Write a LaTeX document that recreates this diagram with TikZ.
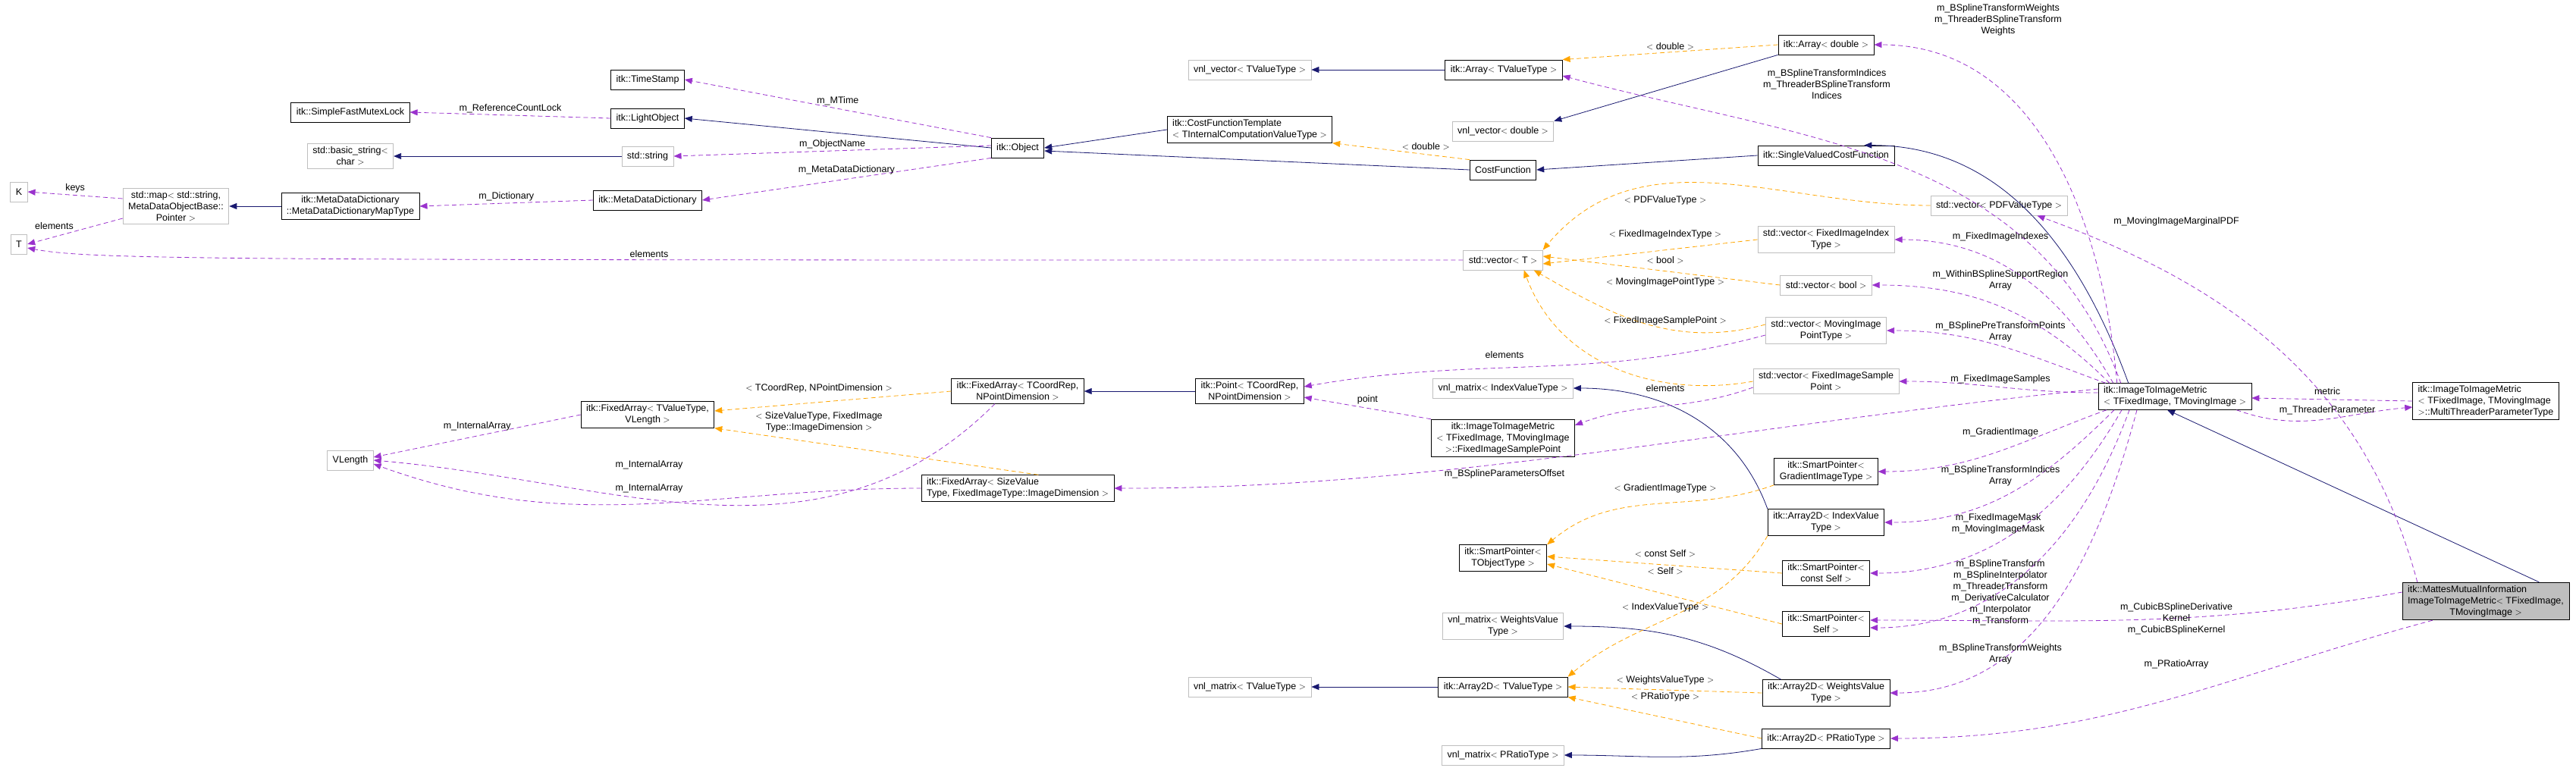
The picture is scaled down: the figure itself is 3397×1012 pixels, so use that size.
\documentclass[tikz,border=0pt]{standalone}
\usepackage{fontspec}
\setmainfont{Liberation Sans}
\usepackage{tikz}
\usetikzlibrary{arrows.meta,positioning}

\definecolor{usecol}{HTML}{9A32CD}
\definecolor{tplcol}{HTML}{FFA500}
\definecolor{inhcol}{HTML}{191970}
\definecolor{undoc}{HTML}{BFBFBF}

\begin{document}
\begin{tikzpicture}[x=1pt,y=-1pt,>={Triangle[width=8pt,length=10pt]},
  font=\fontsize{12.5}{15}\selectfont]
\tikzstyle{cls}=[draw=black, thick, align=center, inner xsep=7pt, inner ysep=4pt, minimum height=26pt]
\tikzstyle{ext}=[cls, draw=undoc]
\tikzstyle{use}=[->, usecol, dashed, thick, dash pattern=on 6pt off 4pt]
\tikzstyle{tpl}=[->, tplcol, dashed, thick, dash pattern=on 6pt off 4pt]
\tikzstyle{inh}=[->, inhcol, thick]
\tikzstyle{lbl}=[align=center, inner sep=1pt, text=black]
\useasboundingbox (0,0) rectangle (3397,1012);

% left part
\node[ext] (k) at (25,253) {K};
\node[ext] (t) at (25,322) {T};
\node[ext] (smap) at (232,272) {std::map$<$ std::string,\\MetaDataObjectBase::\\Pointer $>$};
\node[cls] (mapt) at (462,272) {itk::MetaDataDictionary\\::MetaDataDictionaryMapType};
\node[cls] (mdd) at (854,264) {itk::MetaDataDictionary};
\node[ext] (sstr) at (854,206) {std::string};
\node[ext] (bstr) at (462,206) {std::basic\_string$<$\\char $>$};
\node[cls] (lobj) at (854,156) {itk::LightObject};
\node[cls] (tstamp) at (854,105) {itk::TimeStamp};
\node[cls] (mutex) at (462,148) {itk::SimpleFastMutexLock};
\node[cls] (farrv) at (854,547) {itk::FixedArray$<$ TValueType,\\VLength $>$};
\node[ext] (vlen) at (462,607) {VLength};

% middle part
\node[cls] (obj) at (1342,195) {itk::Object};
\node[cls, align=left] (cft) at (1648,171) {itk::CostFunctionTemplate\\$<$ TInternalComputationValueType $>$};
\node[ext] (vvect) at (1648,92) {vnl\_vector$<$ TValueType $>$};
\node[cls] (arrt) at (1983,92) {itk::Array$<$ TValueType $>$};
\node[ext] (vvdbl) at (1982,173) {vnl\_vector$<$ double $>$};
\node[cls] (cf) at (1982,224) {CostFunction};
\node[ext] (vect) at (1982,343) {std::vector$<$ T $>$};
\node[cls] (fatc) at (1342,516) {itk::FixedArray$<$ TCoordRep,\\NPointDimension $>$};
\node[cls] (point) at (1648,516) {itk::Point$<$ TCoordRep,\\NPointDimension $>$};
\node[ext] (vmidx) at (1982,512) {vnl\_matrix$<$ IndexValueType $>$};
\node[cls] (fisp) at (1982,578) {itk::ImageToImageMetric\\$<$ TFixedImage, TMovingImage\\$>$::FixedImageSamplePoint};
\node[cls, align=left] (fasv) at (1342,644) {itk::FixedArray$<$ SizeValue\\Type, FixedImageType::ImageDimension $>$};
\node[cls] (sptr) at (1982,736) {itk::SmartPointer$<$\\TObjectType $>$};
\node[ext] (vmw) at (1982,826) {vnl\_matrix$<$ WeightsValue\\Type $>$};
\node[ext] (vmt) at (1648,906) {vnl\_matrix$<$ TValueType $>$};
\node[cls] (a2dt) at (1982,906) {itk::Array2D$<$ TValueType $>$};
\node[ext] (vmpr) at (1982,996) {vnl\_matrix$<$ PRatioType $>$};

% right part
\node[cls] (arrd) at (2408,59) {itk::Array$<$ double $>$};
\node[cls] (svcf) at (2408,205) {itk::SingleValuedCostFunction};
\node[ext] (vpdf) at (2636,271) {std::vector$<$ PDFValueType $>$};
\node[ext] (vidx) at (2408,316) {std::vector$<$ FixedImageIndex\\Type $>$};
\node[ext] (vbool) at (2408,376) {std::vector$<$ bool $>$};
\node[ext] (vmpt) at (2408,436) {std::vector$<$ MovingImage\\PointType $>$};
\node[ext] (vfsp) at (2408,503) {std::vector$<$ FixedImageSample\\Point $>$};
\node[cls, align=left] (itim) at (2868,523) {itk::ImageToImageMetric\\$<$ TFixedImage, TMovingImage $>$};
\node[cls, align=left] (mtpt) at (3278,529) {itk::ImageToImageMetric\\$<$ TFixedImage, TMovingImage\\ $>$::MultiThreaderParameterType};
\node[cls] (spgrad) at (2408,622) {itk::SmartPointer$<$\\GradientImageType $>$};
\node[cls] (a2di) at (2408,689) {itk::Array2D$<$ IndexValue\\Type $>$};
\node[cls] (spcs) at (2408,756) {itk::SmartPointer$<$\\const Self $>$};
\node[cls] (sps) at (2408,823) {itk::SmartPointer$<$\\Self $>$};
\node[cls] (a2dw) at (2408,914) {itk::Array2D$<$ WeightsValue\\Type $>$};
\node[cls] (a2dp) at (2408,974) {itk::Array2D$<$ PRatioType $>$};
\node[cls, fill=undoc, align=left] (mattes) at (3278,793) {itk::MattesMutualInformation\\ImageToImageMetric$<$ TFixedImage,\\\hfill TMovingImage $>$\hfill\null};

% inheritance
\draw[inh] (sstr) -- (bstr);
\draw[inh] (mapt) -- (smap);
\draw[inh] (obj.west) -- (lobj.east);
\draw[inh] (cft.west) -- (obj.east);
\draw[inh] (cf.west) -- ([yshift=-4pt]obj.east);
\draw[inh] (arrt) -- (vvect);
\draw[inh] (arrd.south west) -- (vvdbl.north east);
\draw[inh] (svcf.west) -- (cf.east);
\draw[inh] ([xshift=40pt]itim.north west) to[out=110,in=0] ([xshift=-40pt]svcf.north east);
\draw[inh] ([xshift=-40pt]mattes.north east) -- ([xshift=-10pt]itim.south);
\draw[inh] (point) -- (fatc);
\draw[inh] (a2di.north west) to[out=110,in=0] (vmidx.east);
\draw[inh] ([xshift=25pt]a2dw.north west) to[out=150,in=0] (vmw.east);
\draw[inh] (a2dt) -- (vmt);
\draw[inh] (a2dp.south west) to[out=190,in=0] (vmpr.east);

% templates
\draw[tpl] (arrd.west) -- (arrt.north east) node[lbl, pos=.5, above=2pt] {$<$ double $>$};
\draw[tpl] (cf.north west) -- (cft.south east) node[lbl, pos=.5, above right] {$<$ double $>$};
\draw[tpl] (vpdf.west) to[out=180,in=50] (vect.north east);
\node[lbl] at (2196,264) {$<$ PDFValueType $>$};
\draw[tpl] (vidx.west) -- ([yshift=-5pt]vect.east);
\node[lbl] at (2196,309) {$<$ FixedImageIndexType $>$};
\draw[tpl] (vbool.west) -- ([yshift=5pt]vect.east);
\node[lbl] at (2196,343) {$<$ bool $>$};
\draw[tpl] ([yshift=8pt]vmpt.west) to[out=195,in=-30] ([xshift=-12pt]vect.south east);
\node[lbl] at (2196,372) {$<$ MovingImagePointType $>$};
\draw[tpl] (vfsp.west) to[out=190,in=-70] ([xshift=-25pt]vect.south east);
\node[lbl] at (2196,423) {$<$ FixedImageSamplePoint $>$};
\draw[tpl] (fatc.west) -- ([yshift=5pt]farrv.east);
\node[lbl] at (1080,512) {$<$ TCoordRep, NPointDimension $>$};
\draw[tpl] ([xshift=-100pt]fasv.north east) -- (farrv.south east);
\node[lbl] at (1080,557) {$<$ SizeValueType, FixedImage\\Type::ImageDimension $>$};
\draw[tpl] (spgrad.south west) to[out=200,in=40] (sptr.north east);
\node[lbl] at (2196,644) {$<$ GradientImageType $>$};
\draw[tpl] (spcs.west) -- ([yshift=2pt]sptr.east);
\node[lbl] at (2196,730) {$<$ const Self $>$};
\draw[tpl] (sps.west) -- ([yshift=-8pt]sptr.east);
\node[lbl] at (2196,753) {$<$ Self $>$};
\draw[tpl] (a2di.south west) to[out=240,in=40] (a2dt.north east);
\node[lbl] at (2196,801) {$<$ IndexValueType $>$};
\draw[tpl] (a2dw.west) -- (a2dt.east);
\node[lbl] at (2196,897) {$<$ WeightsValueType $>$};
\draw[tpl] (a2dp.west) -- (a2dt.south east);
\node[lbl] at (2196,919) {$<$ PRatioType $>$};

% members
\draw[use] (obj.north west) -- (tstamp.east) node[lbl, pos=.5, above=3pt] {m\_MTime};
\draw[use] (lobj.west) -- (mutex.east) node[lbl, pos=.5, above=2pt] {m\_ReferenceCountLock};
\draw[use] ([yshift=3pt]obj.west) -- (sstr.east) node[lbl, pos=.5, above=2pt] {m\_ObjectName};
\draw[use] (obj.south west) -- (mdd.east) node[lbl, pos=.5, above=5pt] {m\_MetaDataDictionary};
\draw[use] (mdd.west) -- (mapt.east) node[lbl, pos=.5, above=2pt] {m\_Dictionary};
\draw[use] ([yshift=10pt]smap.west) -- (k.east) node[lbl, pos=.5, above=2pt] {keys};
\draw[use] ([yshift=-16pt]smap.west) -- (t.east) node[lbl, pos=.5, above left=1pt] {elements};
\draw[use] (vect.west) .. controls (300,343) and (120,343) .. ([yshift=-5pt]t.east);
\node[lbl] at (856,335) {elements};
\draw[use] (farrv.west) -- ([yshift=4pt]vlen.east) node[lbl, pos=.5, above=6pt] {m\_InternalArray};
\draw[use] ([xshift=-30pt]fatc.south) to[out=225,in=-5] (vlen.east);
\node[lbl] at (856,613) {m\_InternalArray};
\draw[use] (fasv.west) to[out=180,in=-20] ([yshift=-5pt]vlen.east);
\node[lbl] at (856,644) {m\_InternalArray};
\draw[use] ([yshift=-6pt]vmpt.west) to[out=195,in=10] ([yshift=6pt]point.east);
\node[lbl] at (1984,468) {elements};
\draw[use] (fisp.north west) -- ([yshift=-8pt]point.east) node[lbl, pos=.5, above=4pt] {point};
\draw[use] ([yshift=-8pt]vfsp.west) to[out=200,in=20] ([yshift=-8pt]fisp.north east);
\node[lbl] at (2196,512) {elements};
\draw[use] ([yshift=10pt]itim.west) .. controls (2300,560) and (1900,645) .. (fasv.east);
\node[lbl] at (1984,625) {m\_BSplineParametersOffset};
\draw[use] ([xshift=25pt]itim.north west) to[out=95,in=0] (arrd.east);
\node[lbl] at (2635,26) {m\_BSplineTransformWeights\\m\_ThreaderBSplineTransform\\Weights};
\draw[use] ([xshift=30pt]itim.north west) to[out=110,in=-15] ([yshift=-8pt]arrt.east);
\node[lbl] at (2409,111) {m\_BSplineTransformIndices\\m\_ThreaderBSplineTransform\\Indices};
\draw[use] ([xshift=20pt]mattes.north west) to[out=105,in=-20] ([xshift=-40pt]vpdf.south east);
\node[lbl] at (2870,292) {m\_MovingImageMarginalPDF};
\draw[use] ([xshift=20pt]itim.north west) to[out=120,in=0] (vidx.east);
\node[lbl] at (2638,312) {m\_FixedImageIndexes};
\draw[use] ([xshift=15pt]itim.north west) to[out=135,in=0] (vbool.east);
\node[lbl] at (2638,370) {m\_WithinBSplineSupportRegion\\Array};
\draw[use] ([xshift=10pt]itim.north west) to[out=160,in=0] (vmpt.east);
\node[lbl] at (2638,438) {m\_BSplinePreTransformPoints\\Array};
\draw[use] ([yshift=5pt]itim.west) to[out=180,in=0] (vfsp.east);
\node[lbl] at (2638,500) {m\_FixedImageSamples};
\draw[use] (mtpt.west) -- ([yshift=-2pt]itim.east);
\node[lbl] at (3069,516) {metric};
\draw[use] ([xshift=-20pt]itim.south east) to[out=-20,in=185] ([yshift=-8pt]mtpt.west);
\node[lbl] at (3069,541) {m\_ThreaderParameter};
\draw[use] ([xshift=-90pt]itim.south) to[out=200,in=0] (spgrad.east);
\node[lbl] at (2638,570) {m\_GradientImage};
\draw[use] ([xshift=-80pt]itim.south) to[out=225,in=0] (a2di.east);
\node[lbl] at (2638,628) {m\_BSplineTransformIndices\\Array};
\draw[use] ([xshift=-70pt]itim.south) to[out=240,in=0] (spcs.east);
\node[lbl] at (2635,691) {m\_FixedImageMask\\m\_MovingImageMask};
\draw[use] ([xshift=-60pt]itim.south) to[out=250,in=0] ([yshift=-5pt]sps.east);
\node[lbl] at (2638,782) {m\_BSplineTransform\\m\_BSplineInterpolator\\m\_ThreaderTransform\\m\_DerivativeCalculator\\m\_Interpolator\\m\_Transform};
\draw[use] ([xshift=-50pt]itim.south) to[out=255,in=0] (a2dw.east);
\node[lbl] at (2638,863) {m\_BSplineTransformWeights\\Array};
\draw[use] ([yshift=12pt]mattes.west) to[out=190,in=0] ([yshift=5pt]sps.east);
\node[lbl] at (2870,816) {m\_CubicBSplineDerivative\\Kernel\\m\_CubicBSplineKernel};
\draw[use] ([xshift=40pt]mattes.south west) to[out=195,in=0] (a2dp.east);
\node[lbl] at (2870,876) {m\_PRatioArray};
\end{tikzpicture}
\end{document}
